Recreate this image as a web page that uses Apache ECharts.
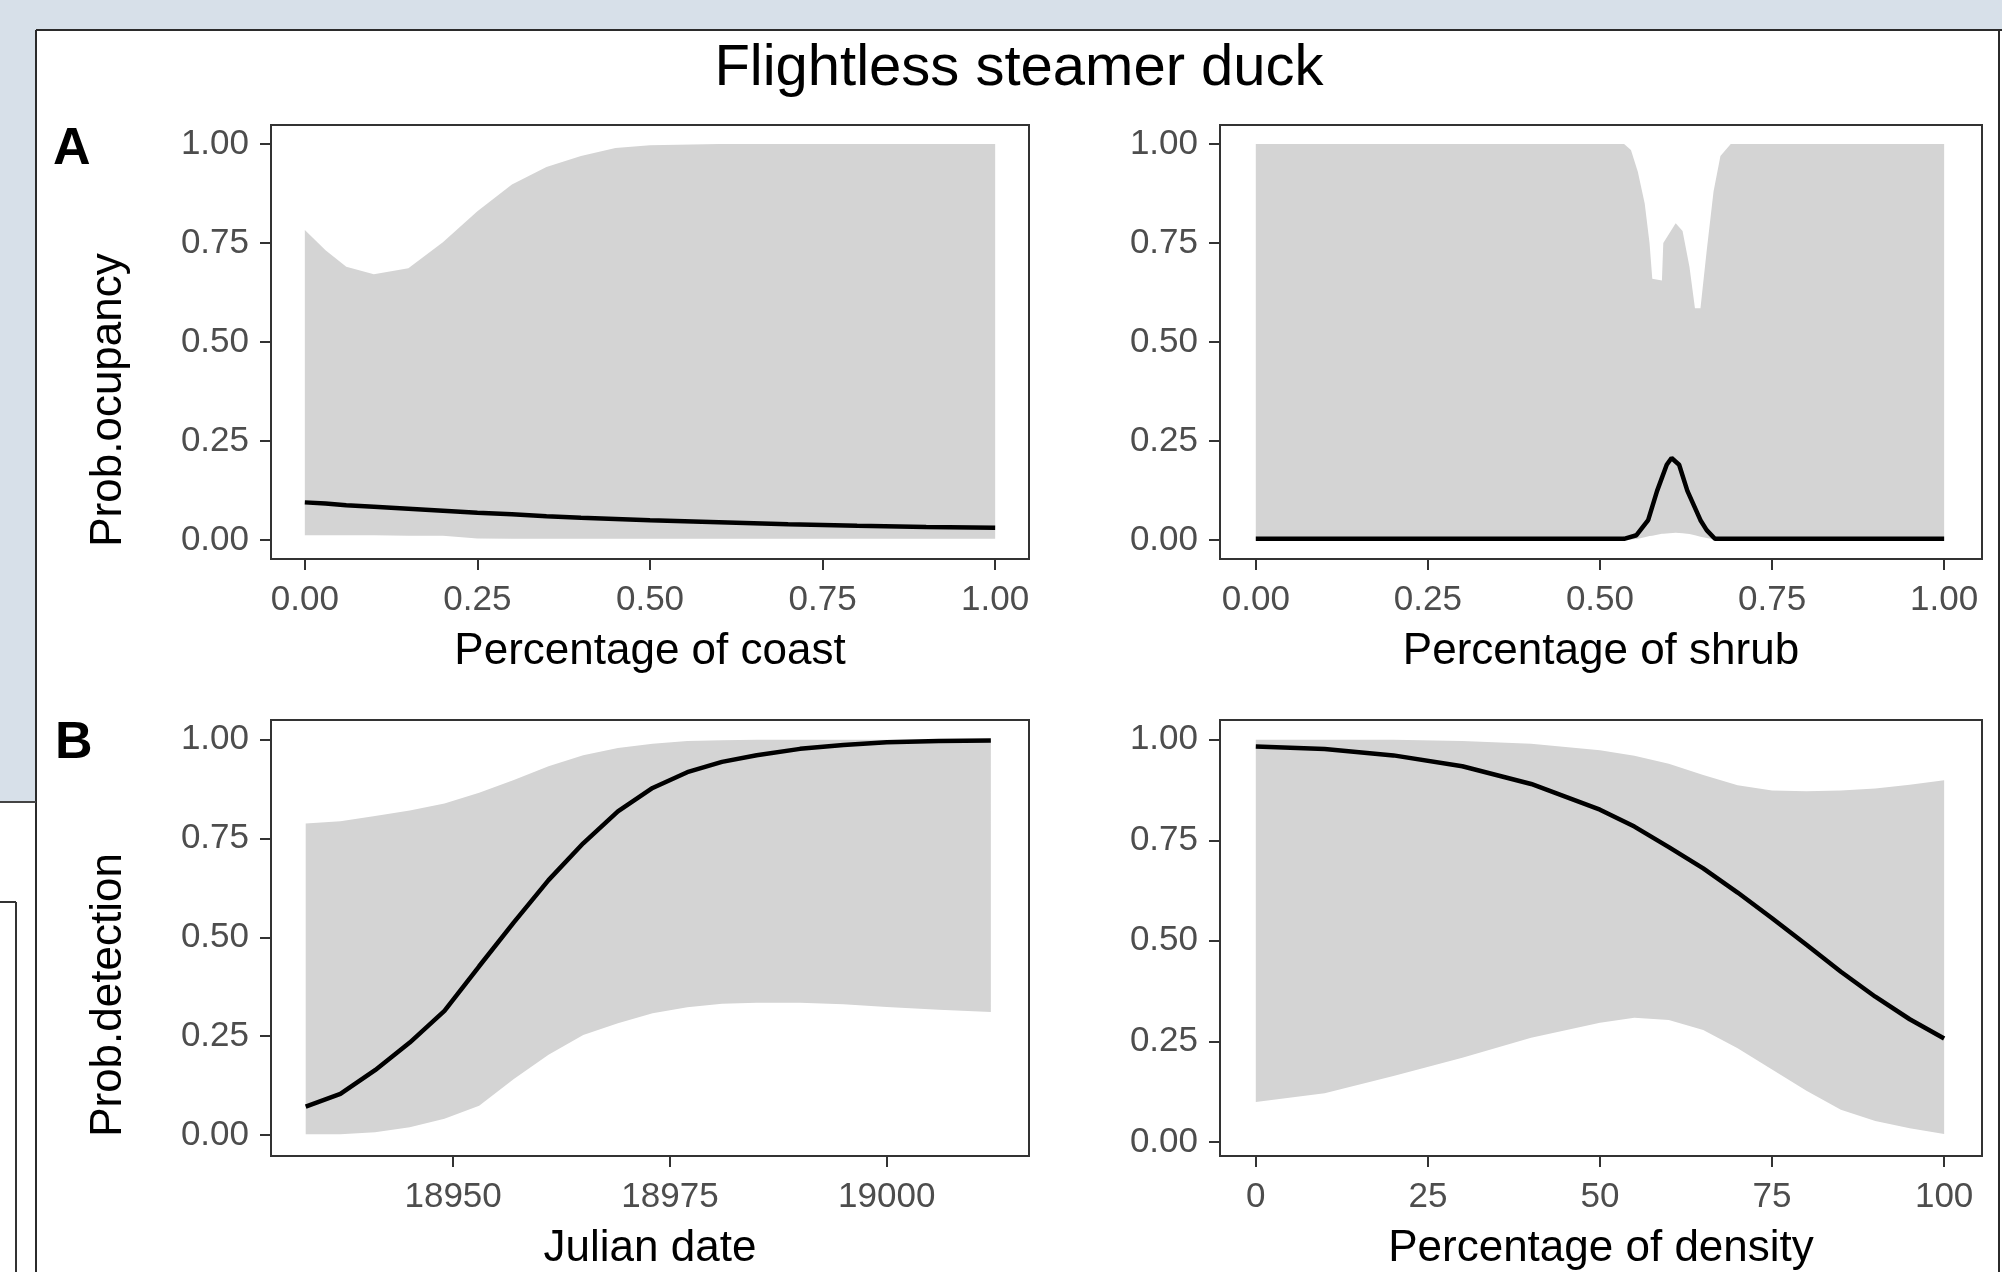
<!DOCTYPE html>
<html>
<head>
<meta charset="utf-8">
<title>Flightless steamer duck</title>
<script src="https://cdn.jsdelivr.net/npm/echarts@6/dist/echarts.min.js"></script>
<style>
  html, body { margin: 0; padding: 0; background: #fff; }
  #main { width: 2002px; height: 1272px; }
</style>
</head>
<body>
<div id="main"></div>
<script>
// A, left: occupancy vs percentage of coast
var coastX     = [0, 0.03, 0.06, 0.1, 0.15, 0.2, 0.25, 0.3, 0.35, 0.4, 0.45, 0.5, 0.6, 0.7, 0.8, 0.9, 1.0];
var coastLower = [0.012, 0.012, 0.012, 0.012, 0.011, 0.011, 0.004, 0.003, 0.003, 0.003, 0.003, 0.003, 0.003, 0.003, 0.003, 0.003, 0.003];
var coastUpper = [0.783, 0.732, 0.69, 0.671, 0.686, 0.752, 0.83, 0.898, 0.942, 0.97, 0.99, 0.997, 1.0, 1.0, 1.0, 1.0, 1.0];
var coastMean  = [0.095, 0.092, 0.088, 0.084, 0.079, 0.074, 0.069, 0.065, 0.060, 0.056, 0.053, 0.050, 0.045, 0.040, 0.036, 0.033, 0.031];

// A, right: occupancy vs percentage of shrub
var shrubX     = [0, 0.5, 0.535, 0.545, 0.555, 0.565, 0.572, 0.576, 0.59, 0.592, 0.61, 0.62, 0.63, 0.638, 0.646, 0.655, 0.665, 0.675, 0.69, 1.0];
var shrubLower = [0, 0, 0, 0.001, 0.003, 0.007, 0.01, 0.011, 0.016, 0.016, 0.018, 0.017, 0.015, 0.012, 0.008, 0.005, 0.002, 0, 0, 0];
var shrubUpper = [1, 1, 1, 0.985, 0.93, 0.85, 0.75, 0.66, 0.655, 0.75, 0.80, 0.78, 0.69, 0.585, 0.585, 0.73, 0.88, 0.97, 1, 1];
var shrubMeanX = [0, 0.535, 0.553, 0.57, 0.583, 0.597, 0.604, 0.615, 0.627, 0.646, 0.655, 0.667, 1.0];
var shrubMean  = [0.003, 0.003, 0.012, 0.05, 0.124, 0.19, 0.207, 0.19, 0.124, 0.05, 0.025, 0.003, 0.003];

// B, left: detection vs julian date
var dateX     = [18933, 18937, 18941, 18945, 18949, 18953, 18957, 18961, 18965, 18969, 18973, 18977, 18981, 18985, 18990, 18995, 19000, 19006, 19012];
var dateLower = [0.002, 0.002, 0.007, 0.02, 0.041, 0.074, 0.142, 0.203, 0.253, 0.283, 0.308, 0.323, 0.332, 0.335, 0.335, 0.331, 0.324, 0.317, 0.311];
var dateUpper = [0.788, 0.794, 0.807, 0.821, 0.839, 0.866, 0.898, 0.933, 0.961, 0.979, 0.990, 0.997, 0.999, 1.0, 1.0, 1.0, 1.0, 1.0, 1.0];
var dateMean  = [0.072, 0.104, 0.164, 0.234, 0.314, 0.427, 0.538, 0.645, 0.738, 0.819, 0.878, 0.918, 0.944, 0.961, 0.977, 0.987, 0.994, 0.997, 0.998];

// B, right: detection vs percentage of density
var densX     = [0, 10, 20, 30, 40, 50, 55, 60, 65, 70, 75, 80, 85, 90, 95, 100];
var densLower = [0.099, 0.121, 0.164, 0.209, 0.259, 0.296, 0.309, 0.303, 0.278, 0.233, 0.180, 0.127, 0.080, 0.052, 0.034, 0.020];
var densUpper = [1.0, 1.0, 1.0, 0.997, 0.99, 0.974, 0.96, 0.94, 0.912, 0.887, 0.874, 0.872, 0.874, 0.879, 0.888, 0.899];
var densMean  = [0.983, 0.977, 0.961, 0.934, 0.890, 0.826, 0.784, 0.733, 0.680, 0.620, 0.556, 0.490, 0.423, 0.361, 0.305, 0.257];

var probTicks  = [0, 0.25, 0.5, 0.75, 1];
var shareTicks = [0, 0.25, 0.5, 0.75, 1];
var dateTicks  = [18950, 18975, 19000];
var densTicks  = [0, 25, 50, 75, 100];

var FONT = "'Liberation Sans', Arial, sans-serif";
var ribbon = '#d4d4d4';
var frame = '#333333';

function pairs(xs, ys) {
  return xs.map(function (x, i) { return [x, ys[i]]; });
}

function xAx(gi, min, max, ticks, fmt, name) {
  return {
    type: 'value', gridIndex: gi, min: min, max: max,
    name: name, nameLocation: 'middle', nameGap: 71, nameMoveOverlap: false,
    nameTextStyle: { fontSize: 44, fontFamily: FONT, color: '#000' },
    axisLine: { show: false, onZero: false },
    splitLine: { show: false },
    axisTick: { customValues: ticks, length: 11, lineStyle: { color: frame, width: 2 } },
    axisLabel: { customValues: ticks, formatter: fmt, margin: 21, padding: [3, 0, 0, 0],
      fontSize: 35, fontFamily: FONT, color: '#4d4d4d' }
  };
}
function yAx(gi, min, max) {
  return {
    type: 'value', gridIndex: gi, min: min, max: max,
    axisLine: { show: false, onZero: false },
    splitLine: { show: false },
    axisTick: { customValues: probTicks, length: 11, lineStyle: { color: frame, width: 2 } },
    axisLabel: {
      customValues: probTicks, margin: 22, padding: [6, 0, 0, 0],
      fontSize: 35, fontFamily: FONT, color: '#4d4d4d',
      formatter: function (v) { return v.toFixed(2); }
    }
  };
}

// confidence ribbon: one polygon, upper edge forward then lower edge back
function band(gi, xs, lo, hi) {
  return {
    type: 'custom', xAxisIndex: gi, yAxisIndex: gi, silent: true, z: 1,
    data: xs.map(function (x, i) { return [x, lo[i], hi[i]]; }),
    encode: { x: 0, y: [1, 2] },
    renderItem: function (params, api) {
      if (params.dataIndex !== 0) return null;
      var pts = [];
      for (var i = 0; i < xs.length; i++) pts.push(api.coord([xs[i], hi[i]]));
      for (var j = xs.length - 1; j >= 0; j--) pts.push(api.coord([xs[j], lo[j]]));
      return { type: 'polygon', shape: { points: pts }, style: { fill: ribbon } };
    }
  };
}
function meanLine(gi, xs, ys) {
  return { type: 'line', xAxisIndex: gi, yAxisIndex: gi, data: pairs(xs, ys),
    showSymbol: false, lineStyle: { color: '#000', width: 4.5 }, z: 3 };
}

var fix2 = function (v) { return v.toFixed(2); };
var plain = function (v) { return String(v); };

var gridBase = { show: true, borderColor: frame, borderWidth: 2, backgroundColor: 'transparent' };

var option = {
  animation: false,
  backgroundColor: '#ffffff',
  grid: [
    Object.assign({ left: 271, top: 125, width: 758, height: 434 }, gridBase),
    Object.assign({ left: 1220, top: 125, width: 762, height: 434 }, gridBase),
    Object.assign({ left: 271, top: 720, width: 758, height: 436 }, gridBase),
    Object.assign({ left: 1220, top: 720, width: 762, height: 436 }, gridBase)
  ],
  xAxis: [
    xAx(0, -0.049, 1.049, shareTicks, fix2, 'Percentage of coast'),
    xAx(1, -0.052, 1.055, shareTicks, fix2, 'Percentage of shrub'),
    xAx(2, 18929, 19016.4, dateTicks, plain, 'Julian date'),
    xAx(3, -5.2, 105.5, densTicks, plain, 'Percentage of density')
  ],
  yAxis: [
    yAx(0, -0.048, 1.048),
    yAx(1, -0.048, 1.048),
    yAx(2, -0.053, 1.05),
    yAx(3, -0.035, 1.049)
  ],
  series: [
    band(0, coastX, coastLower, coastUpper),
    band(1, shrubX, shrubLower, shrubUpper),
    band(2, dateX, dateLower, dateUpper),
    band(3, densX, densLower, densUpper),
    meanLine(0, coastX, coastMean),
    meanLine(1, shrubMeanX, shrubMean),
    meanLine(2, dateX, dateMean),
    meanLine(3, densX, densMean)
  ],
  graphic: [
    // window background around the figure
    { type: 'rect', z: -10, shape: { x: 0, y: 0, width: 2002, height: 30 }, style: { fill: '#d7e0e9' } },
    { type: 'rect', z: -10, shape: { x: 0, y: 0, width: 36, height: 802 }, style: { fill: '#d7e0e9' } },
    { type: 'line', z: 5, shape: { x1: 36, y1: 30, x2: 2002, y2: 30 }, style: { stroke: '#2b2b2b', lineWidth: 2 } },
    { type: 'line', z: 5, shape: { x1: 36, y1: 30, x2: 36, y2: 1272 }, style: { stroke: '#2b2b2b', lineWidth: 2 } },
    { type: 'line', z: 5, shape: { x1: 1999, y1: 30, x2: 1999, y2: 1272 }, style: { stroke: '#2b2b2b', lineWidth: 2 } },
    { type: 'line', z: 5, shape: { x1: 0, y1: 802, x2: 36, y2: 802 }, style: { stroke: '#444', lineWidth: 2 } },
    { type: 'line', z: 5, shape: { x1: 0, y1: 902, x2: 16, y2: 902 }, style: { stroke: '#333', lineWidth: 2 } },
    { type: 'line', z: 5, shape: { x1: 16, y1: 902, x2: 16, y2: 1272 }, style: { stroke: '#333', lineWidth: 2 } },
    // title and panel labels
    { type: 'text', x: 1019, y: 69, style: { text: 'Flightless steamer duck', fontSize: 58, fontFamily: FONT, fill: '#000', align: 'center', verticalAlign: 'middle' } },
    { type: 'text', x: 53, y: 150, style: { text: 'A', fontSize: 52, fontWeight: 'bold', fontFamily: FONT, fill: '#000', align: 'left', verticalAlign: 'middle' } },
    { type: 'text', x: 55, y: 744, style: { text: 'B', fontSize: 52, fontWeight: 'bold', fontFamily: FONT, fill: '#000', align: 'left', verticalAlign: 'middle' } },
    { type: 'text', x: 109, y: 400, rotation: Math.PI / 2, style: { text: 'Prob.ocupancy', fontSize: 44, fontFamily: FONT, fill: '#000', align: 'center', verticalAlign: 'middle' } },
    { type: 'text', x: 109, y: 995, rotation: Math.PI / 2, style: { text: 'Prob.detection', fontSize: 44, fontFamily: FONT, fill: '#000', align: 'center', verticalAlign: 'middle' } }
  ]
};

var chart = echarts.init(document.getElementById('main'));
chart.setOption(option);
window.addEventListener('resize', function () { chart.resize(); });
</script>
</body>
</html>
